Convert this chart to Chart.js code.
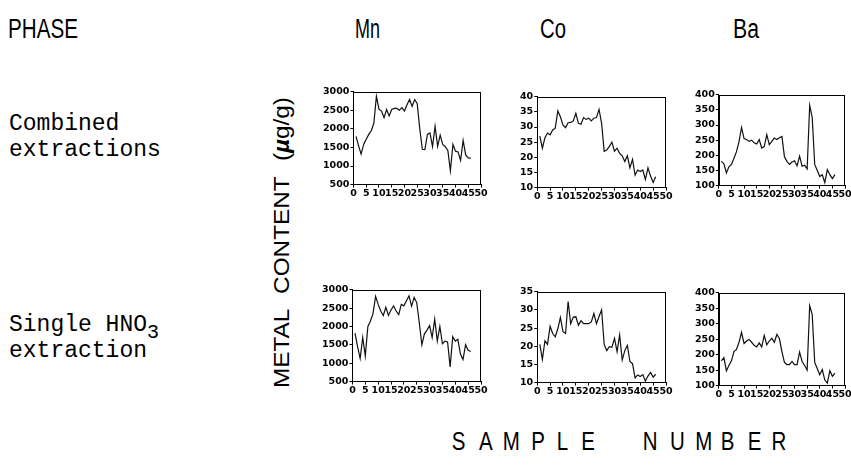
<!DOCTYPE html>
<html><head><meta charset="utf-8">
<script src="https://cdn.jsdelivr.net/npm/chart.js@4.4.1/dist/chart.umd.min.js"></script>
<style>
html,body{margin:0;padding:0;background:#fff;}
body{width:851px;height:466px;position:relative;overflow:hidden;}
canvas{position:absolute;}
svg{position:absolute;left:0;top:0;}
.sans{font-family:"Liberation Sans",Arial,sans-serif;}
.mono{font-family:"Liberation Mono","Courier New",monospace;}
</style></head><body>
<svg width="851" height="466" xmlns="http://www.w3.org/2000/svg">
  <text class="sans" x="8" y="38" font-size="28" textLength="70" lengthAdjust="spacingAndGlyphs">PHASE</text>
  <text class="sans" x="355" y="38" font-size="27" textLength="25" lengthAdjust="spacingAndGlyphs">Mn</text>
  <text class="sans" x="540" y="38" font-size="27" textLength="26" lengthAdjust="spacingAndGlyphs">Co</text>
  <text class="sans" x="733" y="38" font-size="27" textLength="26" lengthAdjust="spacingAndGlyphs">Ba</text>
  <text class="mono" x="9" y="130" font-size="23">Combined</text>
  <text class="mono" x="9" y="156" font-size="23">extractions</text>
  <text class="mono" x="9" y="331" font-size="23">Single HNO<tspan font-size="20" dy="7">3</tspan></text>
  <text class="mono" x="9" y="357" font-size="23">extraction</text>
  <text class="sans" transform="translate(289,388) rotate(-90)" font-size="22" textLength="291" lengthAdjust="spacingAndGlyphs" style="word-spacing:8px">METAL CONTENT (<tspan font-weight="bold" font-style="italic">µ</tspan>g/g)</text>
  <text class="sans" font-size="25" transform="translate(0,450) scale(0.82,1)" y="0" x="551 584 613 648 679 709 747 784 817 848 879 912 941">SAMPLE NUMBER</text>
</svg>
<script>
const sampleNumbers = [1,2,3,4,5,6,7,8,9,10,11,12,13,14,15,16,17,18,19,20,21,22,23,24,25,26,27,28,29,30,31,32,33,34,35,36,37,38,39,40,41,42,43,44,45,46];
const mnCombined = [1800,1550,1320,1580,1720,1850,1950,2150,2880,2530,2480,2300,2520,2350,2520,2550,2550,2500,2570,2480,2650,2790,2610,2790,2680,2000,1450,1440,1850,1890,1520,2070,1530,1830,1580,1520,1420,870,1580,1400,1380,1150,1690,1300,1220,1210];
const mnSingle = [1820,1450,1130,1700,1200,2000,2150,2350,2820,2600,2420,2300,2520,2300,2450,2560,2420,2320,2600,2560,2700,2830,2550,2790,2650,2100,1500,1800,1900,2020,1700,2200,1600,2000,1530,1600,1580,900,1720,1600,1650,1250,1100,1500,1350,1320];
const coCombined = [27,23,26.5,28,27.4,29,29.6,35.3,33.4,30.7,29.8,31.4,31.5,32,34.5,31.2,30.9,33.1,32.5,32.9,32,32.9,33.1,35.8,31.2,22,22.4,23.6,25,22,23,21.3,20.5,18.6,20.5,16.5,19.3,14.1,15.8,15.3,15.8,12.7,16.5,13.8,11.7,13.6];
const coSingle = [20.5,16.4,21.5,20.5,25.5,23.5,22.6,24.8,27.9,24,23.5,32.3,26.2,28,28.1,25.8,27,26.2,26.2,26.2,26.7,29,26.2,28.2,30,20.5,18.8,19.9,19.7,22.2,18.5,23.1,16.2,18.8,20.2,15.8,15.2,11.3,12.1,11.7,12.2,10.4,11.8,12.8,11.5,12.3];
const baCombined = [180,172,142,162,170,190,212,245,292,255,252,246,250,241,237,252,224,229,268,235,246,257,252,258,262,195,180,170,178,182,165,197,164,167,155,365,325,170,150,130,136,110,153,136,123,136];
const baSingle = [180,190,148,165,180,210,217,240,272,236,244,249,240,230,225,238,225,262,232,244,253,240,265,252,210,175,168,168,178,168,168,208,178,165,150,358,330,175,155,135,152,118,108,148,130,140];
const xTickValues = [0,5,10,15,20,25,30,35,40,45,50];
const mnTickValues = [500,1000,1500,2000,2500,3000];
const coTopTickValues = [10,15,20,25,30,35,40];
const coBottomTickValues = [10,15,20,25,30,35];
const baTickValues = [100,150,200,250,300,350,400];

const framePlugin = {
  id:'frame',
  afterDraw(chart){
    const {ctx, chartArea:a} = chart;
    ctx.save();
    ctx.strokeStyle='#000'; ctx.lineWidth=1;
    ctx.strokeRect(Math.round(a.left)+0.5, Math.round(a.top)+0.5, Math.round(a.right-a.left)-1, Math.round(a.bottom-a.top)-1);
    ctx.restore();
  }
};

function config(values, yTicks){
  const tickFont = {family:'"DejaVu Sans", sans-serif', weight:'bold', size:9.5};
  return {
    type:'line',
    data:{datasets:[{data: sampleNumbers.map((x,i)=>({x:x, y:values[i]})), borderColor:'#111', borderWidth:1.2, pointRadius:0, tension:0, fill:false}]},
    options:{
      animation:false, responsive:false, maintainAspectRatio:false, events:[],
      layout:{padding:{top:6,right:8,left:0,bottom:0}},
      plugins:{legend:{display:false}, tooltip:{enabled:false}},
      scales:{
        x:{type:'linear', min:xTickValues[0], max:xTickValues[xTickValues.length-1],
           afterBuildTicks:s=>{s.ticks = xTickValues.map(v=>({value:v}));},
           ticks:{autoSkip:false, maxRotation:0, minRotation:0, padding:0, color:'#000', font:tickFont, callback:v=>String(v)},
           grid:{drawOnChartArea:false, drawTicks:true, tickLength:3, color:'#000'},
           border:{display:true, color:'#000', width:1}},
        y:{type:'linear', min:yTicks[0], max:yTicks[yTicks.length-1],
           afterBuildTicks:s=>{s.ticks = yTicks.map(v=>({value:v}));},
           ticks:{autoSkip:false, padding:1, color:'#000', font:tickFont, callback:v=>String(v)},
           grid:{drawOnChartArea:false, drawTicks:true, tickLength:3, color:'#000'},
           border:{display:true, color:'#000', width:1}}
      }
    },
    plugins:[framePlugin]
  };
}

function place(frame, values, yTicks){
  const fw = frame.r-frame.l, fh = frame.b-frame.t;
  let W = fw+45, H = fh+22, chart=null, canvas=null;
  for(let k=0;k<4;k++){
    if(chart){chart.destroy(); canvas.remove();}
    canvas = document.createElement('canvas');
    canvas.width=W; canvas.height=H; canvas.style.width=W+'px'; canvas.style.height=H+'px';
    document.body.appendChild(canvas);
    chart = new Chart(canvas, config(values, yTicks));
    const a = chart.chartArea;
    const dw = fw-(a.right-a.left), dh = fh-(a.bottom-a.top);
    if(Math.abs(dw)<0.5 && Math.abs(dh)<0.5) break;
    W += Math.round(dw); H += Math.round(dh);
  }
  canvas.style.left = (frame.l - chart.chartArea.left)+'px';
  canvas.style.top = (frame.t - chart.chartArea.top)+'px';
}

place({l:353,r:481,t:92,b:185}, mnCombined, mnTickValues);
place({l:537,r:666,t:97,b:188}, coCombined, coTopTickValues);
place({l:719,r:845,t:95,b:186}, baCombined, baTickValues);
place({l:352,r:481,t:290,b:382}, mnSingle, mnTickValues);
place({l:537,r:666,t:292,b:383}, coSingle, coBottomTickValues);
place({l:719,r:845,t:293,b:386}, baSingle, baTickValues);
</script>
</body></html>
